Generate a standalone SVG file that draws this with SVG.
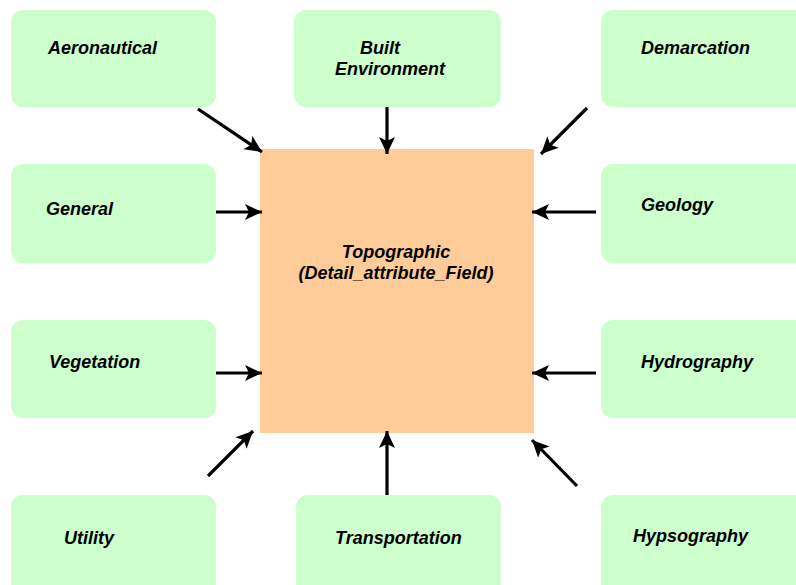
<svg xmlns="http://www.w3.org/2000/svg" width="796" height="585" viewBox="0 0 796 585">
  <style>
    .box { fill: #CCFFCC; }
    .core { fill: #FFCC99; }
    .lbl { font-family: "Liberation Sans", Arial, sans-serif; font-size: 18px; font-weight: bold; font-style: italic; fill: #000; }
    .mid { text-anchor: middle; }
    .con { stroke: #000; stroke-width: 3.2; fill: none; marker-end: url(#head); }
  </style>
  <defs>
    <marker id="head" markerUnits="userSpaceOnUse" markerWidth="20" markerHeight="18" refX="17" refY="8" orient="auto">
      <path d="M0,0 L17,8 L0,16 L4,8 Z" fill="#000"/>
    </marker>
  </defs>

  <rect width="796" height="585" fill="#fff"/>

  <!-- central feature -->
  <g id="topographic">
    <rect class="core" x="260" y="149" width="274" height="284"/>
    <text class="lbl mid" x="396" y="258">Topographic</text>
    <text class="lbl mid" x="396" y="279">(Detail_attribute_Field)</text>
  </g>

  <!-- surrounding categories -->
  <g id="aeronautical">
    <rect class="box" x="11" y="10" width="205" height="97" rx="12"/>
    <text class="lbl" x="48" y="54">Aeronautical</text>
  </g>
  <g id="built-environment">
    <rect class="box" x="294" y="10" width="207" height="97" rx="12"/>
    <text class="lbl" x="360" y="54">Built</text>
    <text class="lbl" x="335" y="75">Environment</text>
  </g>
  <g id="demarcation">
    <rect class="box" x="601" y="10" width="210" height="97" rx="12"/>
    <text class="lbl" x="641" y="54">Demarcation</text>
  </g>
  <g id="general">
    <rect class="box" x="11" y="164" width="205" height="99" rx="12"/>
    <text class="lbl" x="46" y="215">General</text>
  </g>
  <g id="geology">
    <rect class="box" x="601" y="164" width="210" height="99" rx="12"/>
    <text class="lbl" x="641" y="211">Geology</text>
  </g>
  <g id="vegetation">
    <rect class="box" x="11" y="320" width="205" height="98" rx="12"/>
    <text class="lbl" x="49" y="368">Vegetation</text>
  </g>
  <g id="hydrography">
    <rect class="box" x="601" y="320" width="210" height="98" rx="12"/>
    <text class="lbl" x="641" y="368">Hydrography</text>
  </g>
  <g id="utility">
    <rect class="box" x="11" y="495" width="205" height="110" rx="12"/>
    <text class="lbl" x="64" y="544">Utility</text>
  </g>
  <g id="transportation">
    <rect class="box" x="296" y="495" width="205" height="110" rx="12"/>
    <text class="lbl" x="335" y="544">Transportation</text>
  </g>
  <g id="hypsography">
    <rect class="box" x="601" y="495" width="210" height="110" rx="12"/>
    <text class="lbl" x="633" y="542">Hypsography</text>
  </g>

  <!-- connectors into the central feature -->
  <g id="connectors">
    <line class="con" x1="198" y1="109" x2="262" y2="152"/>
    <line class="con" x1="387" y1="107" x2="387" y2="154"/>
    <line class="con" x1="587" y1="108" x2="541" y2="154"/>
    <line class="con" x1="216" y1="212" x2="262" y2="212"/>
    <line class="con" x1="596" y1="212" x2="532" y2="212"/>
    <line class="con" x1="216" y1="373" x2="262" y2="373"/>
    <line class="con" x1="596" y1="373" x2="532" y2="373"/>
    <line class="con" x1="208" y1="476" x2="253" y2="431"/>
    <line class="con" x1="387" y1="495" x2="387" y2="431"/>
    <line class="con" x1="577" y1="486" x2="532" y2="440"/>
  </g>
</svg>
